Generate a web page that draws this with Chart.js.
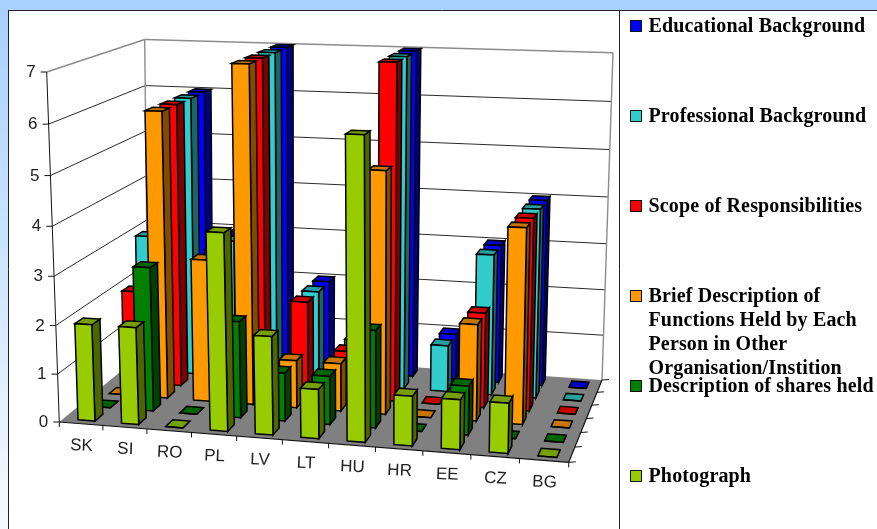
<!DOCTYPE html>
<html>
<head>
<meta charset="utf-8">
<style>
html, body { margin: 0; padding: 0; background: #fff; overflow: hidden; }
canvas { display: block; }
</style>
<script src="https://cdn.jsdelivr.net/npm/chart.js@4"></script>
</head>
<body>
<canvas id="chart" width="877" height="529"></canvas>
<script>
var countries = ['SK', 'SI', 'RO', 'PL', 'LV', 'LT', 'HU', 'HR', 'EE', 'CZ', 'BG'];

var educational  = [3, 6, 3, 7, 2, 1, 7, 1, 3, 4, 0];
var professional = [3, 6, 3, 7, 2, 1, 7, 1, 3, 4, 0];
var scope        = [2, 6, 3, 7, 2, 1, 7, 0, 2, 4, 0];
var brief        = [0, 6, 3, 7, 1, 1, 5, 0, 2, 4, 0];
var shares       = [0, 3, 0, 2, 1, 1, 2, 0, 1, 0, 0];
var photograph   = [2, 2, 0, 4, 2, 1, 6, 1, 1, 1, 0];

var seriesNames = ['Educational Background', 'Professional Background', 'Scope of Responsibilities',
    'Brief Description of Functions Held by Each Person in Other Organisation/Instition',
    'Description of shares held', 'Photograph'];
var seriesValues = [educational, professional, scope, brief, shares, photograph];
var seriesColors = [[0, 0, 255], [51, 204, 204], [255, 0, 0], [255, 153, 0], [0, 128, 0], [153, 204, 0]];
var legendLines = [['Educational Background'], ['Professional Background'], ['Scope of Responsibilities'],
    ['Brief Description of', 'Functions Held by Each', 'Person in Other', 'Organisation/Instition'],
    ['Description of shares held'], ['Photograph']];

// corners of the floor and of the top plane of the 3d box, order: front left, front right, back right, back left
var floorCorners = [[59.3, 422], [568.7, 462.3], [602, 380], [148, 349]];
var topCorners = [[46.7, 72], [578, 90], [613, 52.7], [144.7, 39.5]];

function makeQuad(p) {
    var sx = p[0][0] - p[1][0] + p[2][0] - p[3][0], sy = p[0][1] - p[1][1] + p[2][1] - p[3][1];
    var dx1 = p[1][0] - p[2][0], dx2 = p[3][0] - p[2][0], dy1 = p[1][1] - p[2][1], dy2 = p[3][1] - p[2][1];
    var den = dx1 * dy2 - dx2 * dy1;
    var g = (sx * dy2 - dx2 * sy) / den, h = (dx1 * sy - sx * dy1) / den;
    var a = p[1][0] - p[0][0] + g * p[1][0], b = p[3][0] - p[0][0] + h * p[3][0];
    var d = p[1][1] - p[0][1] + g * p[1][1], e = p[3][1] - p[0][1] + h * p[3][1];
    return function (u, v) {
        var w = g * u + h * v + 1;
        return [(a * u + b * v + p[0][0]) / w, (d * u + e * v + p[0][1]) / w];
    };
}
var floorAt = makeQuad(floorCorners);
var topAt = makeQuad(topCorners);

// u along categories, v towards the back wall, t up the value axis (all 0..1)
function project(u, v, t) {
    var a = floorAt(u, v), b = topAt(u, v);
    var k = t - 0.05 * t * (1 - t); // spacing shrinks a little towards the floor
    return [a[0] + (b[0] - a[0]) * k, a[1] + (b[1] - a[1]) * k];
}

function poly(ctx, pts, fill, stroke, lw) {
    ctx.beginPath();
    pts.forEach(function (p, i) { if (i) ctx.lineTo(p[0], p[1]); else ctx.moveTo(p[0], p[1]); });
    ctx.closePath();
    if (fill) { ctx.fillStyle = fill; ctx.fill(); }
    if (stroke) { ctx.strokeStyle = stroke; ctx.lineWidth = lw; ctx.stroke(); }
}

function line(ctx, a, b, color, lw) {
    ctx.beginPath();
    ctx.moveTo(a[0], a[1]);
    ctx.lineTo(b[0], b[1]);
    ctx.strokeStyle = color;
    ctx.lineWidth = lw;
    ctx.stroke();
}

function shade(c, k) {
    return 'rgb(' + Math.round(c[0] * k) + ',' + Math.round(c[1] * k) + ',' + Math.round(c[2] * k) + ')';
}

var pagePlugin = {
    id: 'page',
    beforeDraw: function (chart) {
        var ctx = chart.ctx;
        var grad = ctx.createLinearGradient(0, 0, 0, 529);
        grad.addColorStop(0, '#a6d0ff');
        grad.addColorStop(1, '#f6faff');
        ctx.fillStyle = grad;
        ctx.fillRect(0, 0, 877, 529);
        ctx.fillStyle = '#fff';
        ctx.fillRect(8, 10, 869, 519);
        line(ctx, [8, 10.5], [877, 10.5], '#222', 1);
        line(ctx, [8.5, 10], [8.5, 529], '#222', 1);
        line(ctx, [619.5, 10], [619.5, 529], '#222', 1);
    }
};

var wallsPlugin = {
    id: 'walls',
    beforeDatasetsDraw: function (chart) {
        var ctx = chart.ctx, x = chart.scales.x, y = chart.scales.y, z = chart.scales.z;
        var area = chart.chartArea;
        poly(ctx, [project(0, 0, 0), project(1, 0, 0), project(1, 1, 0), project(0, 1, 0)], '#808080');

        y.ticks.forEach(function (tick) {
            var t = (area.bottom - y.getPixelForValue(tick.value)) / area.height;
            var edge = tick.value === 7 ? '#8c8c8c' : '#2a2a2a';
            var lw = tick.value === 7 ? 1.4 : 1;
            if (tick.value > 0) {
                line(ctx, project(0, 0, t), project(0, 1, t), edge, lw);
                line(ctx, project(0, 1, t), project(1, 1, t), edge, lw);
            }
            var p = project(0, 0, t);
            line(ctx, [p[0] - 6, p[1]], p, '#111', 1);
            ctx.fillStyle = '#222';
            ctx.font = '17px "Liberation Sans"';
            ctx.textAlign = 'right';
            ctx.textBaseline = 'middle';
            ctx.fillText(String(tick.value), p[0] - 11, p[1] + 0.5);
        });
        line(ctx, project(0, 1, 0), project(0, 1, 1), '#8c8c8c', 1.4);
        line(ctx, project(1, 1, 0), project(1, 1, 1), '#8c8c8c', 1.4);
        line(ctx, project(0, 0, 0), project(0, 0, 1), '#111', 1);
        line(ctx, project(0, 0, 0), project(1, 0, 0), '#111', 1.2);
        line(ctx, project(1, 0, 0), project(1, 1, 0), '#111', 1.2);

        // tick marks under the floor, and category labels
        for (var i = 0; i <= countries.length; i++) {
            var p = project(i / countries.length, 0, 0);
            line(ctx, p, [p[0], p[1] + 5], '#111', 1);
        }
        for (var k = 1; k <= seriesNames.length; k++) {
            var q = project(1, k / seriesNames.length, 0);
            line(ctx, q, [q[0] + 7, q[1] - 0.5], '#111', 1);
        }
        var first = project(1, 0, 0);
        line(ctx, first, [first[0] + 7, first[1] - 0.5], '#111', 1);

        countries.forEach(function (name, i) {
            var u = (x.getPixelForValue(i) - area.left) / area.width;
            var p = project(u, 0, 0);
            ctx.save();
            ctx.translate(p[0] + 0.5, p[1] + 22);
            ctx.rotate(0.04);
            ctx.fillStyle = '#222';
            ctx.font = '17px "Liberation Sans"';
            ctx.textAlign = 'center';
            ctx.textBaseline = 'middle';
            ctx.fillText(name, 0, 0);
            ctx.restore();
        });

        // boxes, back row first
        var depth = 0.5 * Math.abs(z.getPixelForValue(1) - z.getPixelForValue(0)) / area.width;
        for (var s = 0; s < seriesNames.length; s++) {
            var meta = chart.getDatasetMeta(s);
            var v = (z.getPixelForValue(s) - area.left) / area.width;
            meta.data.forEach(function (bar) {
                var props = bar.getProps(['x', 'y', 'base', 'width'], true);
                var u = (props.x - area.left) / area.width + 0.003, half = props.width / area.width / 2;
                var t = (props.base - props.y) / area.height;
                var u0 = u - half, u1 = u + half, v0 = v - depth / 2, v1 = v + depth / 2;
                var c = seriesColors[s];
                poly(ctx, [project(u1, v0, 0), project(u1, v1, 0), project(u1, v1, t), project(u1, v0, t)], shade(c, 0.5), '#000', 1.5);
                poly(ctx, [project(u0, v0, t), project(u1, v0, t), project(u1, v1, t), project(u0, v1, t)], shade(c, 0.78), '#000', 1.5);
                poly(ctx, [project(u0, v0, 0), project(u1, v0, 0), project(u1, v0, t), project(u0, v0, t)], shade(c, 1), '#000', 1.5);
            });
        }
        return false;
    }
};

var legendPlugin = {
    id: 'sideLegend',
    afterDraw: function (chart) {
        var ctx = chart.ctx;
        ctx.textAlign = 'left';
        ctx.textBaseline = 'alphabetic';
        ctx.font = 'bold 20px "Liberation Serif"';
        ctx.letterSpacing = '0.15px';
        legendLines.forEach(function (lines, s) {
            var keyY = 20 + s * 90;
            ctx.fillStyle = shade(seriesColors[s], 1);
            ctx.fillRect(630.5, keyY + 0.5, 11, 11);
            ctx.strokeStyle = '#111';
            ctx.lineWidth = 1;
            ctx.strokeRect(630.5, keyY + 0.5, 11, 11);
            ctx.fillStyle = '#000';
            lines.forEach(function (text, l) {
                ctx.fillText(text, 648.5, keyY + 12 + l * 24);
            });
        });
        ctx.letterSpacing = '0px';
    }
};

new Chart(document.getElementById('chart'), {
    type: 'bar',
    data: {
        labels: countries,
        datasets: seriesNames.map(function (name, s) {
            return { label: name, data: seriesValues[s], backgroundColor: shade(seriesColors[s], 1), grouped: false };
        })
    },
    options: {
        responsive: false,
        animation: false,
        events: [],
        barPercentage: 0.39,
        categoryPercentage: 1,
        layout: { padding: 0 },
        plugins: { legend: { display: false }, tooltip: { enabled: false }, title: { display: false } },
        scales: {
            x: { type: 'category', display: false, offset: true },
            y: { type: 'linear', display: false, min: 0, max: 7, ticks: { stepSize: 1 } },
            z: { type: 'category', axis: 'x', position: 'bottom', display: false, offset: true, reverse: true, labels: seriesNames }
        }
    },
    plugins: [pagePlugin, wallsPlugin, legendPlugin]
});
</script>
</body>
</html>
